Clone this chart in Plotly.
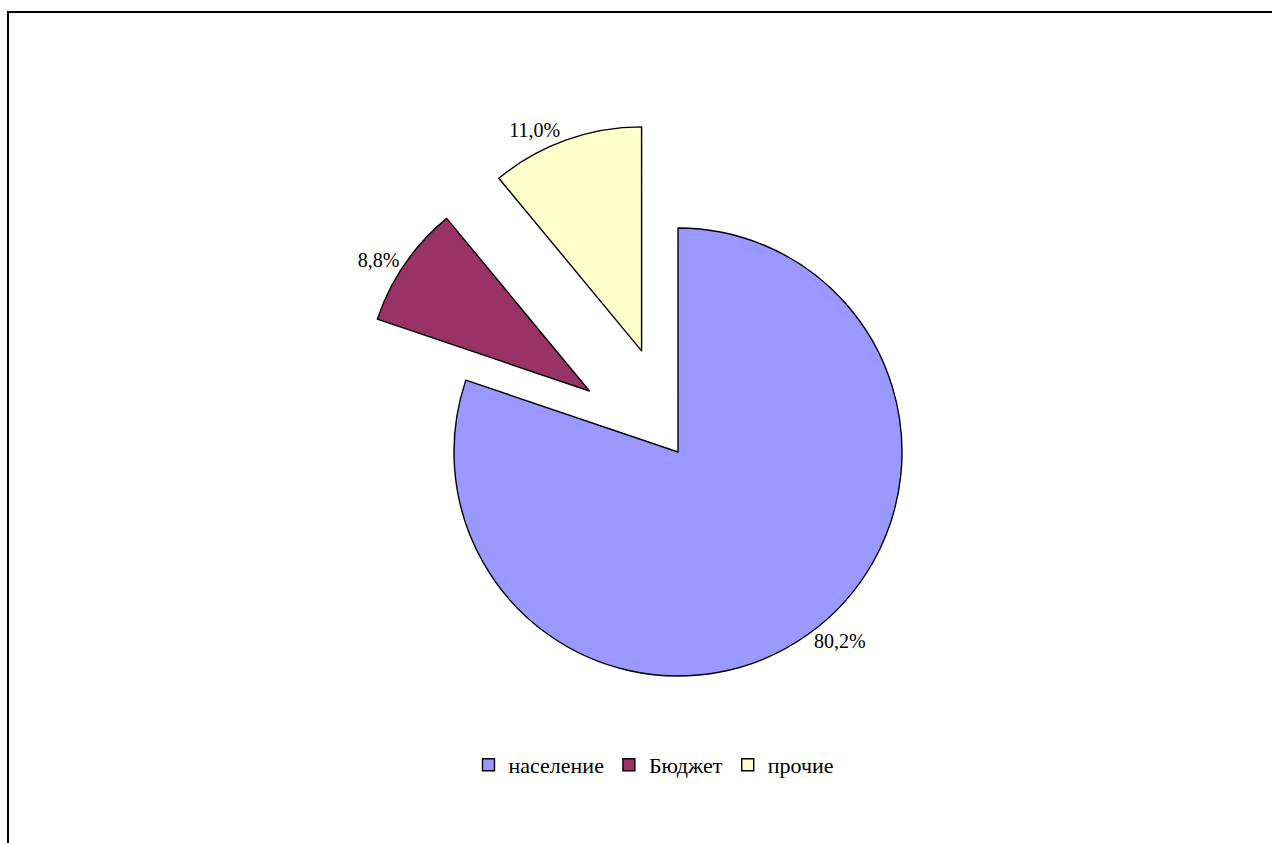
import plotly.graph_objects as go

labels = ["население", "Бюджет", "прочие"]
values = [80.2, 8.8, 11.0]
colors = ["#9999FF", "#993366", "#FFFFCC"]
pulls = [0, 0.48, 0.48]

W, H = 1272, 843
cx, cy, r = 678, 452, 224
half = r * (1 + max(pulls))

fig = go.Figure(go.Pie(
    labels=labels,
    values=values,
    sort=False,
    direction="clockwise",
    rotation=0,
    pull=pulls,
    marker=dict(colors=colors, line=dict(color="black", width=1.4)),
    textposition="outside",
    texttemplate="%{percent:.1%}",
    textfont=dict(family="Liberation Serif", size=20, color="black"),
    domain=dict(x=[(cx - half) / W, (cx + half) / W],
                y=[1 - (cy + half) / H, 1 - (cy - half) / H]),
    hoverinfo="label+percent",
))

fig.update_layout(
    width=W, height=H,
    margin=dict(l=0, r=0, t=0, b=0, autoexpand=False),
    paper_bgcolor="white",
    separators=", ",
    font=dict(family="Liberation Serif", size=20, color="black"),
    showlegend=True,
    legend=dict(orientation="h", x=654 / W, y=1 - 765 / H,
                xanchor="center", yanchor="middle",
                font=dict(family="Liberation Serif", size=22, color="black"),
                itemwidth=30, tracegroupgap=0),
    shapes=[dict(type="rect", xref="paper", yref="paper",
                 x0=8 / W, x1=1.02, y0=-0.02, y1=1 - 12 / H,
                 line=dict(color="black", width=2))],
)

fig.write_html("out.html")
